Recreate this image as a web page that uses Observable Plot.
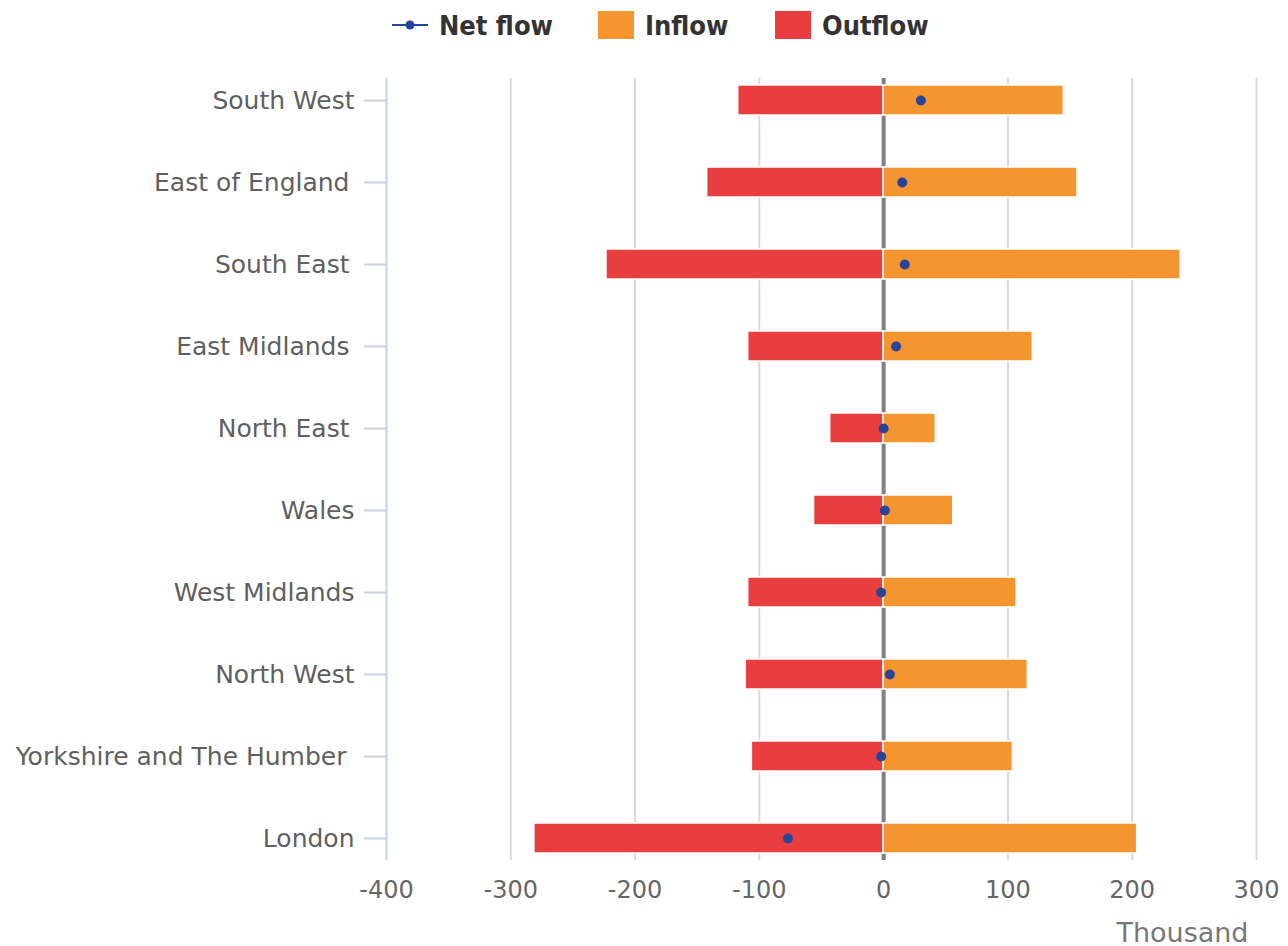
<!DOCTYPE html>
<html>
<head>
<meta charset="utf-8">
<script src="https://cdn.jsdelivr.net/npm/d3@7"></script>
<script src="https://cdn.jsdelivr.net/npm/@observablehq/plot@0.6"></script>
<style>
  html, body { margin: 0; padding: 0; background: #fff; }
  body { width: 1288px; height: 946px; overflow: hidden; font-family: "DejaVu Sans", sans-serif; }
  #legend { height: 50px; position: relative; }
  .item { position: absolute; top: 0; height: 50px; display: flex; align-items: center; }
  .lbl { font-family: "DejaVu Sans Condensed", "DejaVu Sans", sans-serif; font-stretch: condensed; font-weight: bold; font-size: 27px; color: #333; }
  .sw { width: 36px; height: 28px; }
  #chart svg { display: block; }
</style>
</head>
<body>
<div id="legend">
  <div class="item" style="left:392px">
    <svg width="36" height="12"><line x1="0" y1="6" x2="36" y2="6" stroke="#27449b" stroke-width="2"/><circle cx="18" cy="6" r="4.5" fill="#27449b"/></svg>
    <span class="lbl" style="margin-left:11px">Net flow</span>
  </div>
  <div class="item" style="left:598px">
    <div class="sw" style="background:#f5952f"></div>
    <span class="lbl" style="margin-left:11px">Inflow</span>
  </div>
  <div class="item" style="left:775px">
    <div class="sw" style="background:#e83e3f"></div>
    <span class="lbl" style="margin-left:11px">Outflow</span>
  </div>
</div>
<div id="chart"></div>
<script>
const regions = ["South West", "East of England", "South East", "East Midlands", "North East", "Wales", "West Midlands", "North West", "Yorkshire and The Humber", "London"];
const inflow = [145, 156, 239, 120, 42, 56, 107, 116, 104, 204];
const outflow = [-117, -142, -223, -109, -43, -56, -109, -111, -106, -281];
const net = [30, 15, 17, 10, 0, 1, -2, 5, -2, -77];
const xTicks = [-400, -300, -200, -100, 0, 100, 200, 300];
const gridTicks = [-300, -200, -100, 100, 200, 300];

const data = regions.map((r, i) => ({region: r, inflow: inflow[i], outflow: outflow[i], net: net[i]}));

// labels that carry a trailing space in the original sit a little further left
const spacedLabels = ["East of England", "South East", "East Midlands", "North East"];
const wideSpaced = ["Yorkshire and The Humber"];
const plainLabels = regions.filter(r => !spacedLabels.includes(r) && !wideSpaced.includes(r));

const yAxisStyle = {tickSize: 22, stroke: "#c5d3e6", strokeWidth: 2, fill: "#5f5f5f", fontSize: 25, label: null};

const chart = Plot.plot({
  width: 1288,
  height: 896,
  marginTop: 28,
  marginBottom: 86,
  marginLeft: 386,
  marginRight: 32,
  style: {fontFamily: "DejaVu Sans", background: "white", overflow: "visible"},
  x: {domain: [-400, 300]},
  y: {domain: regions, paddingInner: 0.635, paddingOuter: 0.08},
  marks: [
    Plot.ruleX(gridTicks, {stroke: "#d9d9d9", strokeWidth: 2}),
    Plot.ruleX([0], {stroke: "#808080", strokeWidth: 4}),
    Plot.barX(data, {y: "region", x1: 0, x2: "outflow", fill: "#e83e3f", stroke: "white", strokeWidth: 1.5}),
    Plot.barX(data, {y: "region", x1: 0, x2: "inflow", fill: "#f5952f", stroke: "white", strokeWidth: 1.5}),
    Plot.dot(data, {y: "region", x: "net", r: 5, fill: "#27449b"}),
    Plot.ruleX([-400], {stroke: "#c5d3e6", strokeWidth: 2}),
    Plot.axisY(plainLabels, {...yAxisStyle, tickPadding: 10}),
    Plot.axisY(spacedLabels, {...yAxisStyle, tickPadding: 15}),
    Plot.axisY(wideSpaced, {...yAxisStyle, tickPadding: 18}),
    Plot.axisX({ticks: xTicks, tickFormat: d => String(d), tickSize: 0, tickPadding: 20, fill: "#666", fontSize: 24, label: null}),
    Plot.text(["Thousand"], {frameAnchor: "bottom-right", dx: -8, dy: 73, textAnchor: "end", lineAnchor: "middle", fontSize: 27, fill: "#777"})
  ]
});
document.getElementById("chart").appendChild(chart);
</script>
</body>
</html>
